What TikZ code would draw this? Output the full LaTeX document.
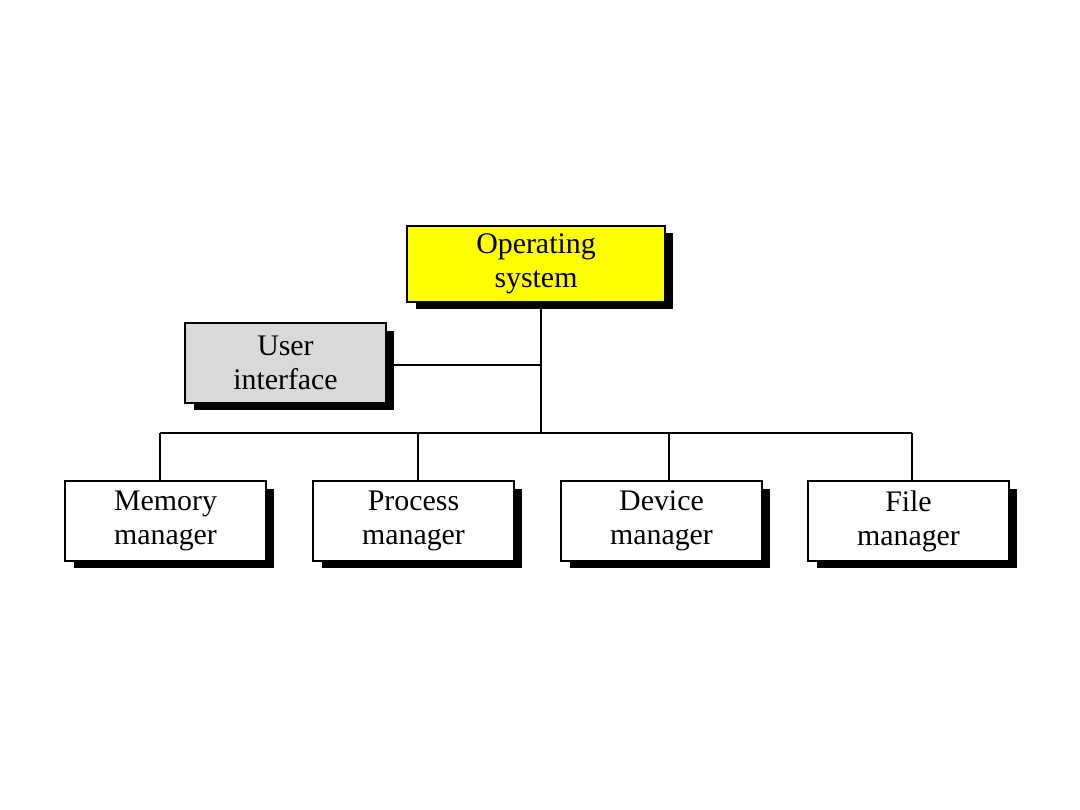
\documentclass[tikz,border=0pt]{standalone}
\usepackage{fontspec}
\setmainfont{Liberation Serif}
\usetikzlibrary{shadows}
\definecolor{osyellow}{RGB}{255,255,0}

\begin{document}
\begin{tikzpicture}[x=0.02cm,y=-0.02cm,
  every node/.style={font=\fontsize{17}{19.5}\selectfont},
  unitbox/.style={draw,line width=1.1pt,align=center,inner sep=0pt,
    minimum width=4.02cm,minimum height=1.6cm,
    drop shadow={shadow xshift=0.17cm,shadow yshift=-0.15cm,fill=black,opacity=1}},
  link/.style={line width=0.85pt}]
  \useasboundingbox (0,0) rectangle (1080,810);
  \node[unitbox,fill=osyellow,minimum width=5.16cm,minimum height=1.52cm] (os) at (536,264) {Operating\\system};
  \node[unitbox,fill=black!15] (ui) at (285.5,363) {User\\interface};
  \node[unitbox,fill=white] (mem) at (165.5,521) {Memory\\manager};
  \node[unitbox,fill=white] (proc) at (413.5,521) {Process\\manager};
  \node[unitbox,fill=white] (dev) at (661.5,521) {Device\\manager};
  \node[unitbox,fill=white] (file) at (908.5,521) {File\\manager};
  % bus coordinates
  \coordinate (trunk) at (541,433);
  \coordinate (b1) at (160,433);
  \coordinate (b2) at (418,433);
  \coordinate (b3) at (669,433);
  \coordinate (b4) at (912,433);
  \draw[link] (trunk |- os.south) -- (trunk);
  \draw[link] (ui.east |- 0,365) -- (trunk |- 0,365);
  \draw[link] (b1) -- (b4);
  \draw[link] (b1) -- (b1 |- mem.north);
  \draw[link] (b2) -- (b2 |- proc.north);
  \draw[link] (b3) -- (b3 |- dev.north);
  \draw[link] (b4) -- (b4 |- file.north);
\end{tikzpicture}
\end{document}
